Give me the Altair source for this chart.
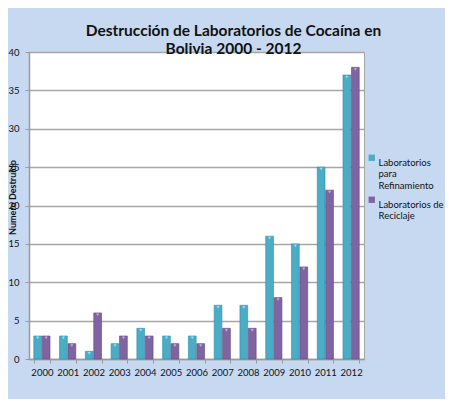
import altair as alt
import pandas as pd

years = ["2000", "2001", "2002", "2003", "2004", "2005", "2006",
         "2007", "2008", "2009", "2010", "2011", "2012"]
refinamiento = [3, 3, 1, 2, 4, 3, 3, 7, 7, 16, 15, 25, 37]
reciclaje = [3, 2, 6, 3, 3, 2, 2, 4, 4, 8, 12, 22, 38]
series = ["Laboratorios para Refinamiento", "Laboratorios de Reciclaje"]
y_ticks = [0, 5, 10, 15, 20, 25, 30, 35, 40]
colors = ["#4bacc6", "#8064a2"]
cap_colors = ["#a5e0ef", "#c3b2dd"]

rows = []
for i, y in enumerate(years):
    rows.append({"year": y, "serie": series[0], "value": refinamiento[i]})
    rows.append({"year": y, "serie": series[1], "value": reciclaje[i]})
df = pd.DataFrame(rows)

FONT = "Lato"

x_enc = alt.X("year:N", sort=years,
              scale=alt.Scale(paddingInner=0.37, paddingOuter=0.185),
              axis=alt.Axis(title=None, labelAngle=0, labelFont=FONT, labelFontSize=9.5,
                            labelColor="#111111", labelPadding=4, tickBand="extent",
                            tickSize=4, tickColor="#9a9a9a", domainColor="#9a9a9a",
                            domainWidth=1.5))
y_enc = alt.Y("value:Q", scale=alt.Scale(domain=[0, 40], nice=False),
              axis=alt.Axis(values=y_ticks, tickCount=9, title="Numero Destruido",
                            titleFont=FONT, titleFontSize=9, titleFontWeight="bold",
                            titleColor="#111111", titleAngle=270, titleX=-17, titleY=145,
                            titleAlign="center", titleBaseline="middle",
                            labelFont=FONT, labelFontSize=9.5, labelColor="#111111",
                            labelPadding=6, tickSize=4, tickColor="#9a9a9a",
                            domainColor="#9a9a9a", domainWidth=1.5,
                            grid=True, gridColor="#a6a6a6", gridWidth=1.5))
xo = alt.XOffset("serie:N", sort=series, scale=alt.Scale(paddingInner=0.08))

bars = alt.Chart(df).mark_bar(strokeWidth=0.6).encode(
    x=x_enc, y=y_enc, xOffset=xo,
    color=alt.Color("serie:N", sort=series,
                    scale=alt.Scale(domain=series, range=colors),
                    legend=alt.Legend(title=None, orient="none", legendX=338, legendY=101,
                                      labelFont=FONT, labelFontSize=9.5, labelColor="#111111",
                                      symbolType="square", symbolSize=40,
                                      symbolStrokeWidth=0, labelBaseline="top",
                                      labelOffset=2, rowPadding=4, labelLimit=200,
                                      labelExpr="datum.label == 'Laboratorios para Refinamiento' ? ['Laboratorios', 'para', 'Refinamiento'] : ['Laboratorios de', 'Reciclaje']")),
    stroke=alt.Stroke("serie:N", sort=series,
                      scale=alt.Scale(domain=series, range=["#2f8fa8", "#5f4680"]),
                      legend=None),
)

caps = alt.Chart(df).mark_point(shape="triangle-down", filled=True, size=10, opacity=0.9,
                                yOffset=2).encode(
    x=x_enc, y=y_enc, xOffset=xo,
    color=alt.Color("serie:N", sort=series,
                    scale=alt.Scale(domain=series, range=cap_colors), legend=None),
)

chart = alt.layer(bars, caps).resolve_scale(color="independent").properties(
    width=335, height=307,
    autosize=alt.AutoSizeParams(type="none"),
    padding={"left": 21, "top": 44, "right": 81, "bottom": 40},
    title=alt.TitleParams(text=["Destrucción de Laboratorios de Cocaína en", "Bolivia 2000 - 2012"],
                          font=FONT, fontSize=15.5, fontWeight="bold", color="#111111",
                          anchor="middle", dx=37, offset=-10, lineHeight=18),
).configure(background="#c6d9f1").configure_view(fill="white", stroke="#a6a6a6", strokeWidth=1)

chart.save("out.html", embed_options={"renderer": "svg", "actions": False})
